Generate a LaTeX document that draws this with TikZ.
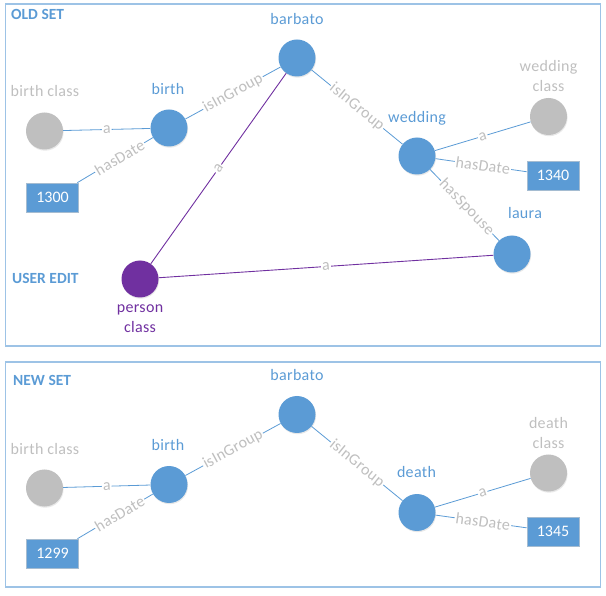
\documentclass[tikz,border=0pt]{standalone}
\usepackage{fontspec}
\setmainfont{Carlito}
\usetikzlibrary{shadows}
\definecolor{nblue}{HTML}{5B9BD5}
\definecolor{ngray}{HTML}{BFBFBF}
\definecolor{npurple}{HTML}{7030A0}
\definecolor{frame}{HTML}{9DC3E6}
\definecolor{elab}{HTML}{BFBFBF}
\begin{document}
\begin{tikzpicture}[x=1pt,y=-1pt,
  fr/.style={draw=frame,line width=1.3pt},
  ttl/.style={anchor=base west,inner sep=0pt,text=nblue,font=\fontsize{15.5}{17}\selectfont\bfseries},
  cir/.style={circle,minimum size=37pt,inner sep=0pt,drop shadow={opacity=0.18,shadow xshift=0.6pt,shadow yshift=-1.2pt}},
  bnode/.style={cir,fill=nblue},
  gnode/.style={cir,fill=ngray},
  pnode/.style={cir,fill=npurple},
  lit/.style={rectangle,fill=nblue,draw=nblue!60!gray!60,line width=0.6pt,minimum width=52pt,minimum height=29pt,inner sep=0pt,text=white,font=\fontsize{16}{18}\selectfont,drop shadow={opacity=0.15,shadow xshift=0.6pt,shadow yshift=-1.2pt}},
  nl/.style={anchor=base,inner sep=0pt,font=\fontsize{16}{20}\selectfont\addfontfeatures{LetterSpace=2},align=center},
  bl/.style={nl,text=nblue},
  gl/.style={nl,text=ngray},
  pl/.style={nl,text=npurple},
  be/.style={draw=nblue,line width=0.8pt},
  pe/.style={draw=npurple,line width=0.9pt},
  el/.style={midway,sloped,fill=white,inner sep=1pt,text=elab,font=\fontsize{16}{18}\selectfont\addfontfeatures{LetterSpace=2}},
]
\useasboundingbox (0,0) rectangle (606,596);
% frames
\node[fr,rectangle,inner sep=0pt,minimum width=595pt,minimum height=342pt] (oldframe) at (303,175) {};
\node[fr,rectangle,inner sep=0pt,minimum width=595pt,minimum height=225pt] (newframe) at (303,474.5) {};
\node[ttl] (toldset) at (11,20) {OLD SET};
\node[ttl] (tuseredit) at (12,284) {USER EDIT};
\node[ttl] (tnewset) at (13,385.5) {NEW SET};

% OLD SET nodes
\node[bnode] (barbato) at (297,58) {};
\node[bnode] (birth) at (169,128) {};
\node[gnode] (birthclass) at (44.5,131) {};
\node[lit] (d1300) at (52.5,197.5) {1300};
\node[bnode] (wedding) at (417,156) {};
\node[gnode] (weddingclass) at (548.5,116.5) {};
\node[lit] (d1340) at (553,175.5) {1340};
\node[bnode] (laura) at (512,254) {};
\node[pnode] (personclass) at (140,279) {};

\node[bl] (lbarbato) at (297,25) {barbato};
\node[bl] (lbirth) at (168,94.5) {birth};
\node[gl] (lbirthclass) at (45,96.5) {birth class};
\node[bl] (lwedding) at (417,122.5) {wedding};
\node[gl] (lweddingclass) at (548.5,91.5) {wedding\\class};
\node[bl] (llaura) at (525,219) {laura};
\node[pl] (lpersonclass) at (140,333) {person\\class};

\draw[be] (birthclass) -- node[el]{a} (birth);
\draw[be] (d1300) -- node[el,pos=0.56]{hasDate} (birth);
\draw[be] (birth) -- node[el]{isInGroup} (barbato);
\draw[be] (barbato) -- node[el]{isInGroup} (wedding);
\draw[be] (wedding) -- node[el]{a} (weddingclass);
\draw[be] (wedding) -- node[el,pos=0.52]{hasDate} (d1340);
\draw[be] (wedding) -- node[el,pos=0.53]{hasSpouse} (laura);
\draw[pe] (personclass) -- node[el]{a} (barbato);
\draw[pe] (personclass) -- node[el]{a} (laura);

% NEW SET nodes
\node[bnode] (nbarbato) at (297,414.5) {};
\node[bnode] (nbirth) at (169,484.5) {};
\node[gnode] (nbirthclass) at (44.5,488) {};
\node[lit] (d1299) at (52.5,553.5) {1299};
\node[bnode] (death) at (417,512.5) {};
\node[gnode] (deathclass) at (548.5,473) {};
\node[lit] (d1345) at (553,531.5) {1345};

\node[bl] (lnbarbato) at (297,380.5) {barbato};
\node[bl] (lnbirth) at (168,450) {birth};
\node[gl] (lnbirthclass) at (45,454) {birth class};
\node[bl] (ldeath) at (416.5,477.5) {death};
\node[gl] (ldeathclass) at (548.5,448.5) {death\\class};

\draw[be] (nbirthclass) -- node[el]{a} (nbirth);
\draw[be] (d1299) -- node[el,pos=0.56]{hasDate} (nbirth);
\draw[be] (nbirth) -- node[el]{isInGroup} (nbarbato);
\draw[be] (nbarbato) -- node[el]{isInGroup} (death);
\draw[be] (death) -- node[el]{a} (deathclass);
\draw[be] (death) -- node[el,pos=0.52]{hasDate} (d1345);
\end{tikzpicture}
\end{document}
